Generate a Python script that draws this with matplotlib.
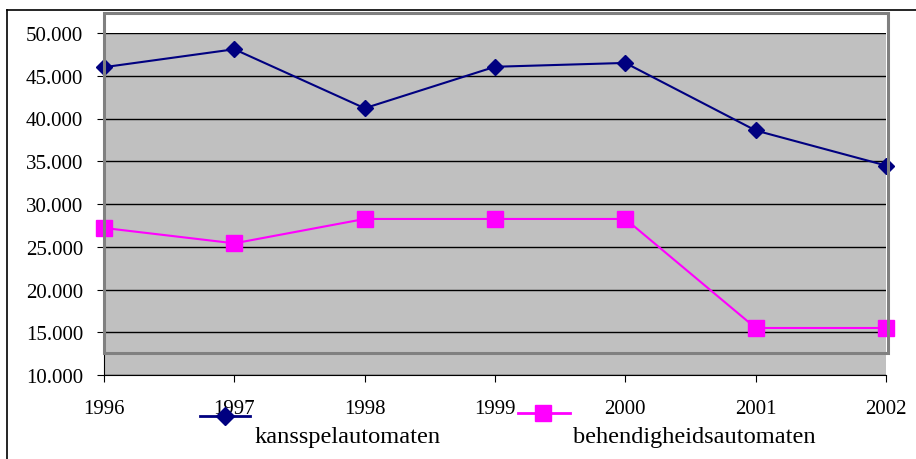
import matplotlib.pyplot as plt
from matplotlib.lines import Line2D
from matplotlib.patches import Rectangle
from matplotlib.ticker import FuncFormatter

years = ['1996', '1997', '1998', '1999', '2000', '2001', '2002']
kansspel = [46000, 48100, 41200, 46050, 46500, 38600, 34500]
behendigheid = [27200, 25400, 28250, 28250, 28250, 15500, 15500]
labels = ['kansspelautomaten', 'behendigheidsautomaten']

plt.rcParams['font.family'] = ['Liberation Serif', 'DejaVu Serif']

W, H = 916, 460
fig = plt.figure(figsize=(W / 100, H / 100), dpi=100)
ax = fig.add_axes([104 / W, 1 - 376 / H, (886 - 104) / W, (376 - 34) / H])
ax.set_facecolor('#c0c0c0')

x = range(len(years))
ax.plot(x, kansspel, color='#000080', lw=1.5, marker='D', ms=8, clip_on=False, zorder=4)
ax.plot(x, behendigheid, color='#ff00ff', lw=1.5, marker='s', ms=11, clip_on=False, zorder=4)

ax.set_xlim(0, len(years) - 1)
ax.set_ylim(10000, 50000)
ax.set_yticks(range(10000, 50001, 5000))
ax.yaxis.set_major_formatter(FuncFormatter(lambda v, p: f'{int(v):,}'.replace(',', '.')))
ax.set_xticks(list(x))
ax.set_xticklabels(years)
ax.grid(axis='y', color='black', lw=1)
ax.set_axisbelow(True)
for s in ['top', 'right']:
    ax.spines[s].set_visible(False)
ax.tick_params(axis='both', labelsize=15, length=5, color='black')
ax.tick_params(axis='x', pad=12)
ax.tick_params(axis='y', pad=10)

# stray grey frame and outer border as in the source picture
fig.add_artist(Rectangle((104 / W, 1 - 354 / H), (888 - 104) / W, (354 - 14) / H,
                         transform=fig.transFigure, fill=False, ec='#808080', lw=2.2, zorder=5))
fig.add_artist(Line2D([7 / W, 1], [1 - 11 / H] * 2, color='black', lw=1.2))
fig.add_artist(Line2D([7 / W] * 2, [0, 1 - 11 / H], color='black', lw=1.2))

# legend
fig.add_artist(Line2D([200 / W, 250 / W], [1 - 417 / H] * 2, color='#000080', lw=2))
fig.add_artist(Line2D([225 / W], [1 - 417 / H], color='#000080', marker='D', ms=9))
fig.text(255 / W, 1 - 438 / H, labels[0], fontsize=17.6, va='center', ha='left')
fig.add_artist(Line2D([518 / W, 570 / W], [1 - 414 / H] * 2, color='#ff00ff', lw=2))
fig.add_artist(Line2D([543 / W], [1 - 414 / H], color='#ff00ff', marker='s', ms=12))
fig.text(573 / W, 1 - 438 / H, labels[1], fontsize=17.6, va='center', ha='left')

fig.savefig('out.png', dpi=100)
